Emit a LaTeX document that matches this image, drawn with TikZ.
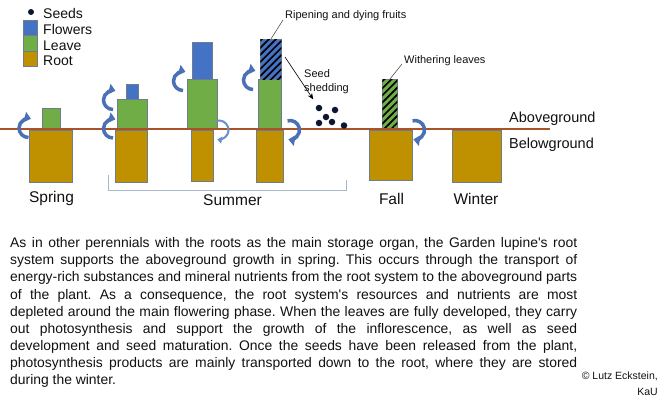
\documentclass[tikz,border=0pt]{standalone}
\usepackage{fontspec}
\setmainfont{Liberation Sans}[Ligatures=TeXOff]
\usetikzlibrary{arrows.meta,patterns.meta}
\definecolor{rootc}{HTML}{BF9000}
\definecolor{leafc}{HTML}{70AD47}
\definecolor{flowc}{HTML}{4472C4}
\definecolor{edgec}{HTML}{6F7C8C}
\definecolor{arrc}{HTML}{4A71B5}
\definecolor{arrlight}{HTML}{6A8FCC}
\definecolor{groundc}{HTML}{A9532B}
\definecolor{brackc}{HTML}{A7B8CE}
\definecolor{seedc}{HTML}{0C1633}
\definecolor{txtc}{HTML}{111111}
\definecolor{pointc}{HTML}{555555}
\begin{document}
\begin{tikzpicture}[x=1pt,y=-1pt,
  box/.style={draw=edgec, line width=0.9pt, inner sep=0pt, anchor=north west},
  sz/.style 2 args={minimum width=#1pt, minimum height=#2pt},
  rootbox/.style={box, fill=rootc},
  leafbox/.style={box, fill=leafc},
  flowbox/.style={box, fill=flowc},
  hatch/.style={postaction={pattern={Lines[angle=45,distance=5pt,line width=1.7pt]}, pattern color=black}},
  seed/.style={circle, fill=seedc, inner sep=0pt, minimum size=6.5pt},
  legtext/.style={anchor=base west, inner sep=0pt, text=txtc, font=\fontsize{14}{16}\selectfont},
  season/.style={anchor=base, inner sep=0pt, text=txtc, font=\fontsize{15.5}{18}\selectfont},
  sidetext/.style={anchor=base west, inner sep=0pt, text=txtc, font=\fontsize{14.5}{17}\selectfont},
  smalltext/.style={anchor=base west, inner sep=0pt, text=txtc, font=\fontsize{11}{13}\selectfont},
  flowarrow/.style={draw=arrc, line width=3.5pt, -{Triangle[length=6.5pt,width=10.5pt]}},
  thinarrow/.style={draw=arrlight, line width=2pt, -{Triangle[length=4.5pt,width=7pt]}},
  pointer/.style={draw=pointc, line width=0.6pt},
  ground/.style={draw=groundc, line width=2pt},
  bracket/.style={draw=brackc, line width=0.8pt}
]
\useasboundingbox[fill=white] (0,0) rectangle (660,400);

% legend
\node[seed, minimum size=6pt] (legseed) at (31,12) {};
\node[flowbox, sz={14}{15}] (legflow) at (23,20) {};
\node[leafbox, sz={14}{16}] (legleaf) at (23,35) {};
\node[rootbox, sz={14}{15}] (legroot) at (23,51) {};
\node[legtext] (tseeds) at (43,18) {Seeds};
\node[legtext] (tflow) at (43,34) {Flowers};
\node[legtext] (tleaf) at (43,50) {Leave};
\node[legtext] (troot) at (43,65) {Root};

% spring
\node[rootbox, sz={43}{52}] (sproot) at (29,130) {};
\node[leafbox, sz={18}{21}] (spleaf) at (42,108) {};
% summer 1
\node[rootbox, sz={32}{52}] (s1root) at (115,130) {};
\node[leafbox, sz={30}{30}] (s1leaf) at (117,99) {};
\node[flowbox, sz={12}{15}] (s1flow) at (126,84) {};
% summer 2
\node[rootbox, sz={22}{51}] (s2root) at (191,130) {};
\node[leafbox, sz={30}{50}] (s2leaf) at (187,79) {};
\node[flowbox, sz={20}{37}] (s2flow) at (192,42) {};
% summer 3
\node[rootbox, sz={27}{52}] (s3root) at (256,130) {};
\node[leafbox, sz={23}{50}] (s3leaf) at (258,79) {};
\node[flowbox, hatch, sz={21}{40}] (s3flow) at (260,39) {};
% fall
\node[rootbox, sz={43}{50}] (faroot) at (369,130) {};
\node[leafbox, hatch, sz={15}{50}] (faleaf) at (382,79) {};
% winter
\node[rootbox, sz={49}{52}] (wiroot) at (452,130) {};

% ground line
\coordinate (g0) at (0,129);
\coordinate (g1) at (550,129);
\draw[ground] (g0) -- (g1);

% transport arrows
\draw[flowarrow] ([shift={(90:9.5)}]28.5,128) arc[start angle=90, end angle=285, radius=9.5];
\draw[flowarrow] ([shift={(90:9.5)}]113,100) arc[start angle=90, end angle=285, radius=9.5];
\draw[flowarrow] ([shift={(90:9.5)}]113,128.5) arc[start angle=90, end angle=285, radius=9.5];
\draw[flowarrow] ([shift={(90:9.5)}]183,81) arc[start angle=90, end angle=285, radius=9.5];
\draw[flowarrow] ([shift={(90:9.5)}]253,80) arc[start angle=90, end angle=285, radius=9.5];
\draw[thinarrow] ([shift={(250:9.5)}]219,130) arc[start angle=250, end angle=460, radius=9.5];
\draw[flowarrow] ([shift={(255:9.5)}]290,130) arc[start angle=255, end angle=460, radius=9.5];
\draw[flowarrow] ([shift={(255:9.5)}]415,130) arc[start angle=255, end angle=460, radius=9.5];

% seeds
\node[seed] (seed1) at (319,108) {};
\node[seed] (seed2) at (335,110) {};
\node[seed] (seed3) at (326,117) {};
\node[seed] (seed4) at (319,123) {};
\node[seed] (seed5) at (332,122) {};
\node[seed] (seed6) at (344,125.5) {};

% annotations
\node[smalltext] (ripen) at (285,18) {Ripening and dying fruits};
\draw[pointer] ([shift={(-2,2)}]ripen.base west) -- (s3flow.north);
\node[smalltext] (wither) at (404,63) {Withering leaves};
\draw[pointer] ([shift={(-2,1)}]wither.base west) -- (faleaf.north);
\node[smalltext] (tseed) at (304,77) {Seed};
\node[smalltext] (tshed) at (304,91) {shedding};
\coordinate (shedstart) at (285,57);
\draw[pointer, draw=black, -{Stealth[length=6pt,width=5pt]}, shorten >=7pt] (shedstart) -- (seed1);

\node[sidetext] (above) at (509,122) {Aboveground};
\node[sidetext] (below) at (509,148) {Belowground};

% season labels
\node[season] (lspring) at (51.5,202) {Spring};
\node[season] (lsummer) at (232.5,205) {Summer};
\node[season] (lfall) at (391.5,204) {Fall};
\node[season] (lwinter) at (476,204) {Winter};
\coordinate (br0) at (108,175);
\coordinate (br1) at (346,180);
\draw[bracket] (br0) |- (br1 |- 0,190) -- (br1);

% paragraph
\node[anchor=north west, text width=567pt, inner sep=0pt, align=justify, text=txtc,
      font=\fontsize{13.9}{17.1}\selectfont] (para) at (10,237.5) {%
\frenchspacing\hyphenpenalty=10000\tolerance=10000\emergencystretch=20pt
As in other perennials with the roots as the main storage organ, the Garden lupine's root\linebreak
system supports the aboveground growth in spring. This occurs through the transport of\linebreak
energy-rich substances and mineral nutrients from the root system to the aboveground parts\linebreak
of the plant. As a consequence, the root system's resources and nutrients are most\linebreak
depleted around the main flowering phase. When the leaves are fully developed, they carry\linebreak
out photosynthesis and support the growth of the inflorescence, as well as seed\linebreak
development and seed maturation. Once the seeds have been released from the plant,\linebreak
photosynthesis products are mainly transported down to the root, where they are stored\linebreak
during the winter.};

\node[anchor=base east, inner sep=0pt, text=txtc, font=\fontsize{10.5}{12}\selectfont] (copy1) at (658,379) {© Lutz Eckstein,};
\node[anchor=base east, inner sep=0pt, text=txtc, font=\fontsize{10.5}{12}\selectfont] (copy2) at (658,395) {KaU};
\end{tikzpicture}
\end{document}
